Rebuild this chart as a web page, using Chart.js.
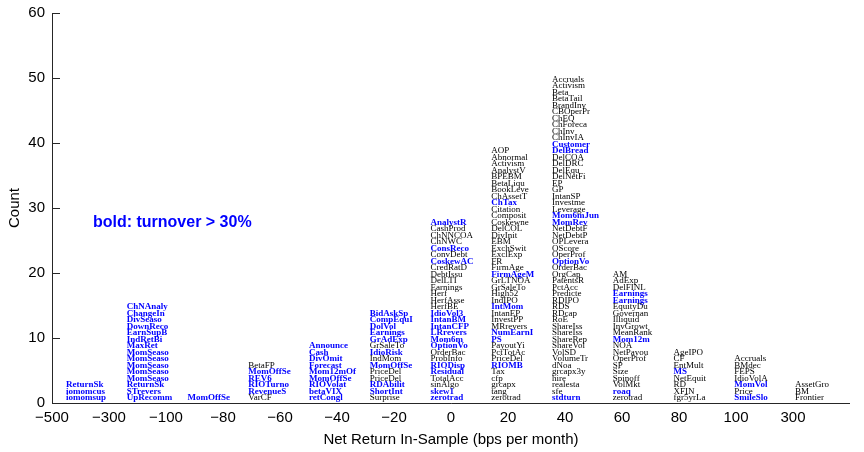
<!DOCTYPE html>
<html><head><meta charset="utf-8">
<script src="https://cdn.jsdelivr.net/npm/chart.js@4"></script>
<style>html,body{margin:0;padding:0;background:#fff}#wrap{width:864px;height:452px;position:relative}</style>
</head><body><div id="wrap"><canvas id="c"></canvas></div>
<script>
// x-axis tick labels (non-linear bin edges)
const tickLabels = ['\u2212500','\u2212300','\u2212100','\u221280','\u221260','\u221240','\u221220','0','20','40','60','80','100','300'];

// Names in each bin, listed top to bottom
const bin1 = ['ReturnSk','iomomcus','iomomsup'];
const bin2 = ['ChNAnaly','ChangeIn','DivSeaso','DownReco','EarnSupB','IndRetBi','MaxRet','MomSeaso','MomSeaso','MomSeaso','MomSeaso','MomSeaso','ReturnSk','STrevers','UpRecomm'];
const bin3 = ['MomOffSe'];
const bin4 = ['BetaFP','MomOffSe','REV6','RIOTurno','RevenueS','VarCF'];
const bin5 = ['Announce','Cash','DivOmit','Forecast','Mom12mOf','MomOffSe','RIOVolat','betaVIX','retCongl'];
const bin6 = ['BidAskSp','CompEquI','DolVol','Earnings','GrAdExp','GrSaleTo','IdioRisk','IndMom','MomOffSe','PriceDel','PriceDel','RDAbilit','ShortInt','Surprise'];
const bin7 = ['AnalystR','CashProd','ChNNCOA','ChNWC','ConsReco','ConvDebt','CoskewAC','CredRatD','DebtIssu','DelLTI','Earnings','Herf','HerfAsse','HerfBE','IdioVol3','IntanBM','IntanCFP','LRrevers','Mom6m','OptionVo','OrderBac','ProbInfo','RIODisp','Residual','TotalAcc','sinAlgo','skew1','zerotrad'];
const bin8 = ['AOP','Abnormal','Activism','AnalystV','BPEBM','BetaLiqu','BookLeve','ChAssetT','ChTax','Citation','Composit','Coskewne','DelCOL','DivInit','EBM','ExchSwit','ExclExp','FR','FirmAge','FirmAgeM','GrLTNOA','GrSaleTo','High52','IndIPO','IntMom','IntanEP','InvestPP','MRrevers','NumEarnI','PS','PayoutYi','PctTotAc','PriceDel','RIOMB','Tax','cfp','grcapx','tang','zerotrad'];
const bin9 = ['Accruals','Activism','Beta','BetaTail','BrandInv','CBOperPr','ChEQ','ChForeca','ChInv','ChInvIA','Customer','DelBread','DelCOA','DelDRC','DelEqu','DelNetFi','EP','GP','IntanSP','Investme','Leverage','Mom6mJun','MomRev','NetDebtF','NetDebtP','OPLevera','OScore','OperProf','OptionVo','OrderBac','OrgCap','PatentsR','PctAcc','Predicte','RDIPO','RDS','RDcap','RoE','ShareIss','ShareIss','ShareRep','ShareVol','VolSD','VolumeTr','dNoa','grcapx3y','hire','realesta','sfe','stdturn'];
const bin10 = ['AM','AdExp','DelFINL','Earnings','Earnings','EquityDu','Governan','Illiquid','InvGrowt','MeanRank','Mom12m','NOA','NetPayou','OperProf','SP','Size','Spinoff','VolMkt','roaq','zerotrad'];
const bin11 = ['AgeIPO','CF','EntMult','MS','NetEquit','RD','XFIN','fgr5yrLa'];
const bin12 = ['Accruals','BMdec','FEPS','IdioVolA','MomVol','Price','SmileSlo'];
const bin13 = ['AssetGro','BM','Frontier'];

// turnover > 30% flags (1 = bold), same order
const hiTo1 = [1,1,1];
const hiTo2 = [1,1,1,1,1,1,1,1,1,1,1,1,1,1,1];
const hiTo3 = [1];
const hiTo4 = [0,1,1,1,1,0];
const hiTo5 = [1,1,1,1,1,1,1,1,1];
const hiTo6 = [1,1,1,1,1,0,1,0,1,0,0,1,1,0];
const hiTo7 = [1,0,0,0,1,0,1,0,0,0,0,0,0,0,1,1,1,1,1,1,0,0,1,1,0,0,1,1];
const hiTo8 = [0,0,0,0,0,0,0,0,1,0,0,0,0,0,0,0,0,0,0,1,0,0,0,0,1,0,0,0,1,1,0,0,0,1,0,0,0,0,0];
const hiTo9 = [0,0,0,0,0,0,0,0,0,0,1,1,0,0,0,0,0,0,0,0,0,1,1,0,0,0,0,0,1,0,0,0,0,0,0,0,0,0,0,0,0,0,0,0,0,0,0,0,0,1];
const hiTo10 = [0,0,0,1,1,0,0,0,0,0,1,0,0,0,0,0,0,0,1,0];
const hiTo11 = [0,0,0,1,0,0,0,0];
const hiTo12 = [0,0,0,0,1,0,1];
const hiTo13 = [0,0,0];

const bins = [bin1,bin2,bin3,bin4,bin5,bin6,bin7,bin8,bin9,bin10,bin11,bin12,bin13];
const hiTo = [hiTo1,hiTo2,hiTo3,hiTo4,hiTo5,hiTo6,hiTo7,hiTo8,hiTo9,hiTo10,hiTo11,hiTo12,hiTo13];
const counts = bins.map(b => b.length);

const AX = '#262626';
const BLUE = '#0000ff';

const stackText = {
  id: 'stackText',
  afterDatasetsDraw(chart) {
    const ctx = chart.ctx;
    const xb = chart.scales.xb, y = chart.scales.y;
    ctx.save();
    bins.forEach((names, k) => {
      const n = names.length;
      const x0 = xb.getPixelForValue(k);
      names.forEach((nm, j) => {
        const row = n - 1 - j; // bottom row = 0
        const bold = hiTo[k][j] === 1;
        ctx.font = (bold ? 'bold ' : '') + '9px "Liberation Serif", "DejaVu Serif", serif';
        ctx.fillStyle = bold ? BLUE : '#000';
        ctx.textAlign = 'left';
        ctx.textBaseline = 'alphabetic';
        ctx.fillText(nm, x0 + 1, y.getPixelForValue(row + 0.45));
      });
    });
    ctx.font = 'bold 16px "Liberation Sans", Arial, sans-serif';
    ctx.fillStyle = BLUE;
    ctx.textBaseline = 'middle';
    ctx.fillText('bold: turnover > 30%', xb.getPixelForValue(0.46), y.getPixelForValue(27.8));
    ctx.restore();
  },
  afterDraw(chart) {
    const ctx = chart.ctx;
    const {left, right, top, bottom} = chart.chartArea;
    const y = chart.scales.y;
    ctx.save();
    ctx.strokeStyle = AX;
    ctx.lineWidth = 1;
    y.ticks.forEach(t => {
      const py = Math.round(y.getPixelForValue(t.value)) + 0.5;
      ctx.beginPath(); ctx.moveTo(left, py); ctx.lineTo(left + 8, py); ctx.stroke();
    });
    ctx.beginPath();
    ctx.moveTo(left + 0.5, top); ctx.lineTo(left + 0.5, bottom + 0.5); ctx.lineTo(right, bottom + 0.5);
    ctx.stroke();
    ctx.restore();
  }
};

new Chart(document.getElementById('c'), {
  type: 'bar',
  data: {
    datasets: [{
      data: counts.map((c, k) => ({x: k + 0.5, y: c})),
      xAxisID: 'xb',
      backgroundColor: 'rgba(0,0,0,0)',
      borderWidth: 0,
      barPercentage: 1, categoryPercentage: 1
    }]
  },
  options: {
    responsive: true, maintainAspectRatio: false, animation: false,
    devicePixelRatio: 1,
    layout: {padding: {top: 13, right: 14, left: 0, bottom: 0}},
    plugins: {legend: {display: false}, tooltip: {enabled: false}},
    scales: {
      x: {
        type: 'linear', position: 'bottom', min: 0, max: 14, offset: false,
        afterBuildTicks(s) { s.ticks = tickLabels.map((_, i) => ({value: i})); },
        afterFit(s) { s.height = 49; s.paddingLeft = 0; s.paddingRight = 0; },
        border: {display: false},
        grid: {display: false, drawTicks: false, offset: false},
        ticks: {
          autoSkip: false, maxRotation: 0, padding: 6, color: '#000',
          font: {family: '"Liberation Sans", Arial, sans-serif', size: 15},
          callback: (v) => tickLabels[v]
        },
        title: {display: true, text: 'Net Return In-Sample (bps per month)', color: '#000',
          font: {family: '"Liberation Sans", Arial, sans-serif', size: 15}, padding: {top: 0, bottom: 3}}
      },
      xb: {
        type: 'linear', display: false, min: -0.214, max: 12.92, offset: false,
        grid: {offset: false}
      },
      y: {
        min: 0, max: 60,
        afterFit(s) { s.width = 52; s.paddingTop = 0; s.paddingBottom = 0; },
        border: {display: false},
        grid: {display: false, drawTicks: false},
        ticks: {stepSize: 10, padding: 7, color: '#000',
          font: {family: '"Liberation Sans", Arial, sans-serif', size: 15}},
        title: {display: true, text: 'Count', color: '#000',
          font: {family: '"Liberation Sans", Arial, sans-serif', size: 15}, padding: {top: 6, bottom: 0}}
      }
    }
  },
  plugins: [stackText]
});
</script>
</body></html>
